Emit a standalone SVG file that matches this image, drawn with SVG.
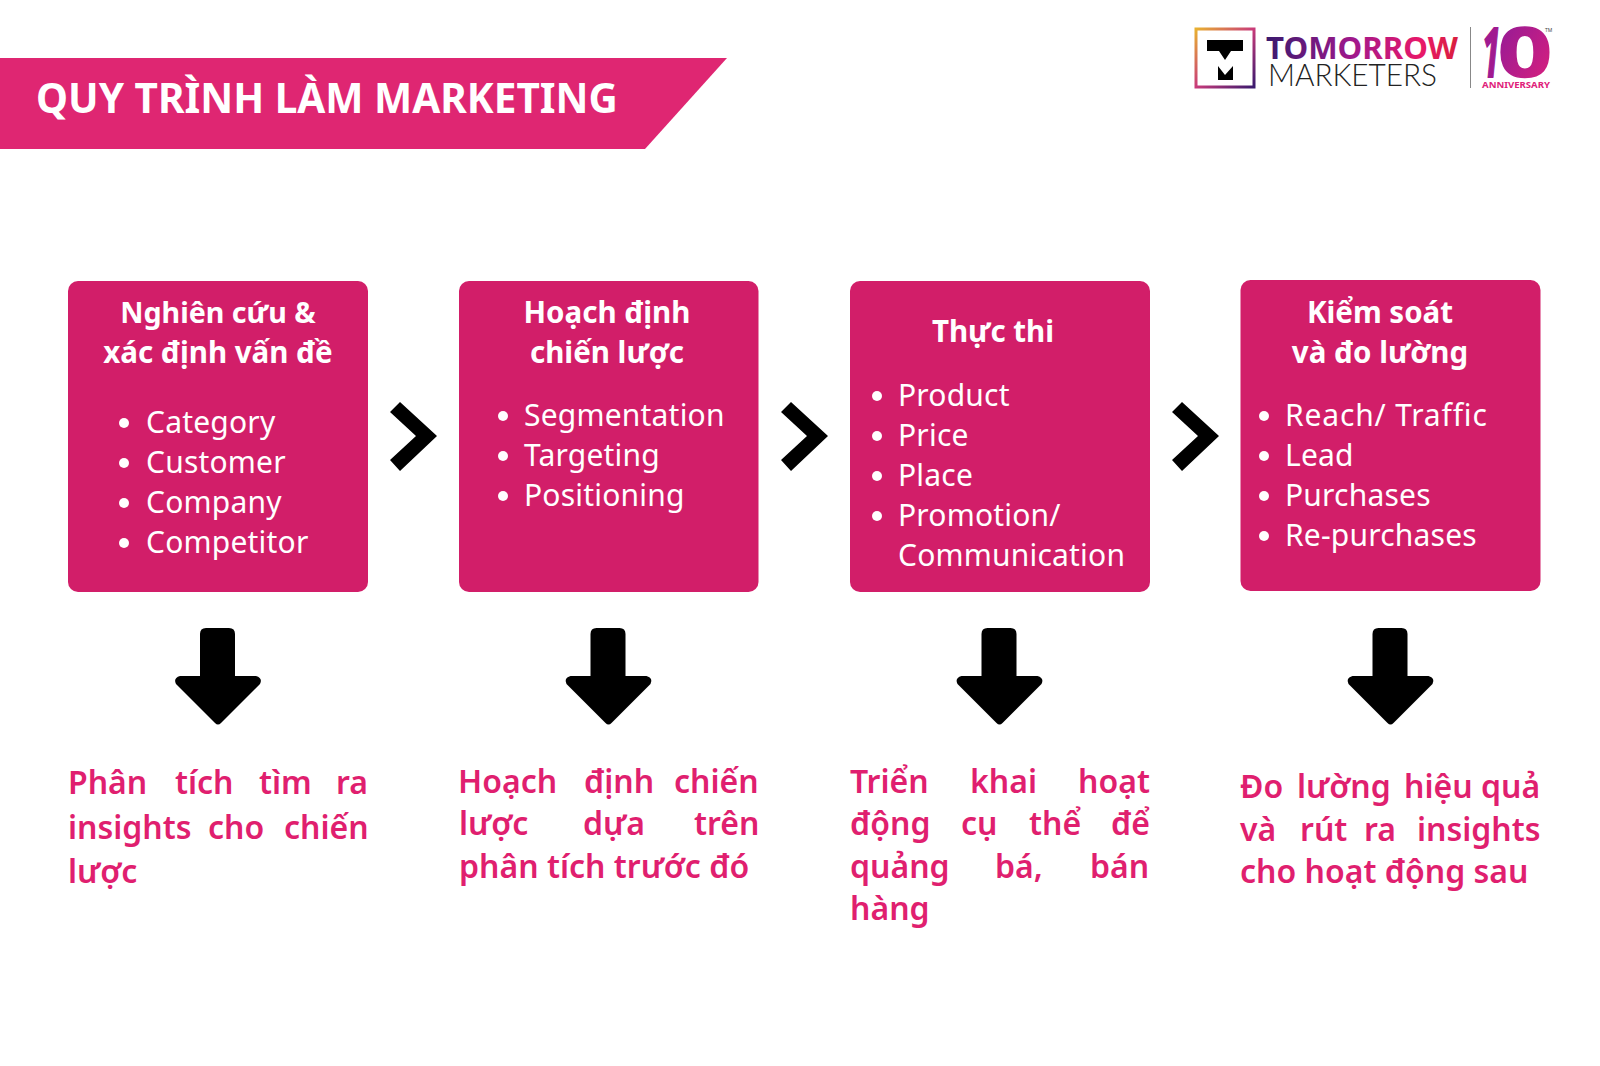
<svg xmlns="http://www.w3.org/2000/svg" width="1600" height="1066" viewBox="0 0 1600 1066">
<defs>
<linearGradient id="lg" x1="0" x2="1" y1="0" y2="0"><stop offset="0" stop-color="#3a1a6e"/><stop offset="0.45" stop-color="#a0188c"/><stop offset="0.8" stop-color="#e8186a"/><stop offset="1" stop-color="#d81f3c"/></linearGradient>
<linearGradient id="lg2" x1="0" x2="1" y1="0" y2="1"><stop offset="0" stop-color="#8a1a9a"/><stop offset="1" stop-color="#e0207a"/></linearGradient>
<linearGradient id="lb" x1="0" x2="1" y1="0" y2="1"><stop offset="0" stop-color="#e8b030"/><stop offset="0.5" stop-color="#c83a7a"/><stop offset="1" stop-color="#3a1a6e"/></linearGradient>
<polygon id="chev" points="400,402 437,436 400,471 390,460 416,436 390,412"/>
<path id="down" d="M206,628H229Q235,628 235,634V676H256Q263,678 260,684L221,723Q218,726 215,723L176,684Q173,678 180,676H200V634Q200,628 206,628Z"/>
</defs>
<style>
text{font-family:"Noto Sans","Open Sans","DejaVu Sans",sans-serif}
.box{fill:#d21e69}
.h{fill:#fff;font-size:29.5px;font-weight:700;text-anchor:middle}
.i{fill:#fff;font-size:30px;letter-spacing:.2px}
.b{fill:#fff}
.d{fill:#e01f6f;font-size:32px;font-weight:600}
</style>
<rect width="1600" height="1066" fill="#fff"/>
<g id="title">
<polygon points="0,58 727,58 645,149 0,149" fill="#df2672"/>
<text x="36" y="113" fill="#fff" font-size="40.5" font-weight="700">QUY TRÌNH LÀM MARKETING</text>
</g>
<g id="logo">
<rect x="1196" y="29" width="58" height="58" fill="#fff" stroke="url(#lb)" stroke-width="3"/>
<polygon points="1207,40 1243,40 1243,51 1231,51 1225,60 1219,51 1207,51"/>
<polygon points="1218,66 1225,75 1233,66 1233,80 1218,80"/>
<text x="1266" y="59" font-size="30" font-weight="700" fill="url(#lg)" textLength="192" lengthAdjust="spacingAndGlyphs">TOMORROW</text>
<text x="1268" y="86" font-size="31" font-weight="300" fill="#222" style="font-family:Lato,'Noto Sans',sans-serif" textLength="169" lengthAdjust="spacingAndGlyphs">MARKETERS</text>
<rect x="1470" y="27" width="1" height="61" fill="#888"/>
<text x="1482" y="77" font-size="68" font-weight="700" font-style="italic" fill="#a01a90" stroke="#a01a90" stroke-width="2" textLength="18" lengthAdjust="spacingAndGlyphs">1</text>
<text x="1498" y="77" font-size="68" font-weight="700" fill="url(#lg2)" stroke="url(#lg2)" stroke-width="1.5" textLength="54" lengthAdjust="spacingAndGlyphs">0</text>
<text x="1545" y="32" font-size="5" fill="#444">TM</text>
<text x="1482" y="88" font-size="9" font-weight="700" fill="#e0207a" textLength="68" lengthAdjust="spacingAndGlyphs">ANNIVERSARY</text>
</g>
<g id="connectors">
<use href="#chev"/><use href="#chev" x="391"/><use href="#chev" x="782"/>
<use href="#down"/><use href="#down" x="390.5"/><use href="#down" x="781.5"/><use href="#down" x="1172.5"/>
</g>
<g id="node1">
<rect class="box" x="68" y="281" width="300" height="311" rx="10"/>
<text class="h" x="218" y="323"><tspan style="font-size:28.6px">Nghiên cứu &amp;</tspan></text>
<text class="h" x="218" y="363">xác định vấn đề</text>
<circle class="b" cx="124" cy="423" r="5"/><text class="i" x="146" y="433">Category</text>
<circle class="b" cx="124" cy="463" r="5"/><text class="i" x="146" y="473">Customer</text>
<circle class="b" cx="124" cy="503" r="5"/><text class="i" x="146" y="513">Company</text>
<circle class="b" cx="124" cy="543" r="5"/><text class="i" x="146" y="553">Competitor</text>
</g>
<g id="node2">
<rect class="box" x="459" y="281" width="299.5" height="311" rx="10"/>
<text class="h" x="607" y="323">Hoạch định</text>
<text class="h" x="607" y="363">chiến lược</text>
<circle class="b" cx="503" cy="416" r="5"/><text class="i" x="524" y="426">Segmentation</text>
<circle class="b" cx="503" cy="456" r="5"/><text class="i" x="524" y="466">Targeting</text>
<circle class="b" cx="503" cy="496" r="5"/><text class="i" x="524" y="506">Positioning</text>
</g>
<g id="node3">
<rect class="box" x="850" y="281" width="300" height="311" rx="10"/>
<text class="h" x="993" y="342">Thực thi</text>
<circle class="b" cx="877" cy="396" r="5"/><text class="i" x="898" y="406">Product</text>
<circle class="b" cx="877" cy="436" r="5"/><text class="i" x="898" y="446">Price</text>
<circle class="b" cx="877" cy="476" r="5"/><text class="i" x="898" y="486">Place</text>
<circle class="b" cx="877" cy="516" r="5"/><text class="i" x="898" y="526">Promotion/</text>
<text class="i" x="898" y="566">Communication</text>
</g>
<g id="node4">
<rect class="box" x="1240.5" y="280" width="300" height="311" rx="10"/>
<text class="h" x="1380" y="323">Kiểm soát</text>
<text class="h" x="1380" y="363">và đo lường</text>
<circle class="b" cx="1264" cy="416" r="5"/><text class="i" x="1285" y="426" textLength="202">Reach/ Traffic</text>
<circle class="b" cx="1264" cy="456" r="5"/><text class="i" x="1285" y="466">Lead</text>
<circle class="b" cx="1264" cy="496" r="5"/><text class="i" x="1285" y="506">Purchases</text>
<circle class="b" cx="1264" cy="536" r="5"/><text class="i" x="1285" y="546">Re-purchases</text>
</g>
<g id="desc1">
<text class="d" y="794"><tspan x="68">Phân </tspan><tspan x="175">tích </tspan><tspan x="259">tìm </tspan><tspan x="336">ra</tspan></text>
<text class="d" y="839"><tspan x="68">insights </tspan><tspan x="208">cho </tspan><tspan x="284">chiến</tspan></text>
<text class="d" x="68" y="883">lược</text>
</g>
<g id="desc2">
<text class="d" y="793"><tspan x="458">Hoạch </tspan><tspan x="584">định </tspan><tspan x="674">chiến</tspan></text>
<text class="d" y="835"><tspan x="459">lược </tspan><tspan x="583">dựa </tspan><tspan x="694">trên</tspan></text>
<text class="d" x="459" y="878">phân tích trước đó</text>
</g>
<g id="desc3">
<text class="d" y="793"><tspan x="850">Triển </tspan><tspan x="970">khai </tspan><tspan x="1078">hoạt</tspan></text>
<text class="d" y="835"><tspan x="850">động </tspan><tspan x="961">cụ </tspan><tspan x="1029">thể </tspan><tspan x="1111">để</tspan></text>
<text class="d" y="878"><tspan x="850">quảng </tspan><tspan x="995">bá, </tspan><tspan x="1090">bán</tspan></text>
<text class="d" x="850" y="920">hàng</text>
</g>
<g id="desc4">
<text class="d" y="798"><tspan x="1240">Đo </tspan><tspan x="1297">lường </tspan><tspan x="1404">hiệu </tspan><tspan x="1481">quả</tspan></text>
<text class="d" y="841"><tspan x="1240">và </tspan><tspan x="1300">rút </tspan><tspan x="1364">ra </tspan><tspan x="1417">insights</tspan></text>
<text class="d" x="1240" y="883">cho hoạt động sau</text>
</g>
</svg>
